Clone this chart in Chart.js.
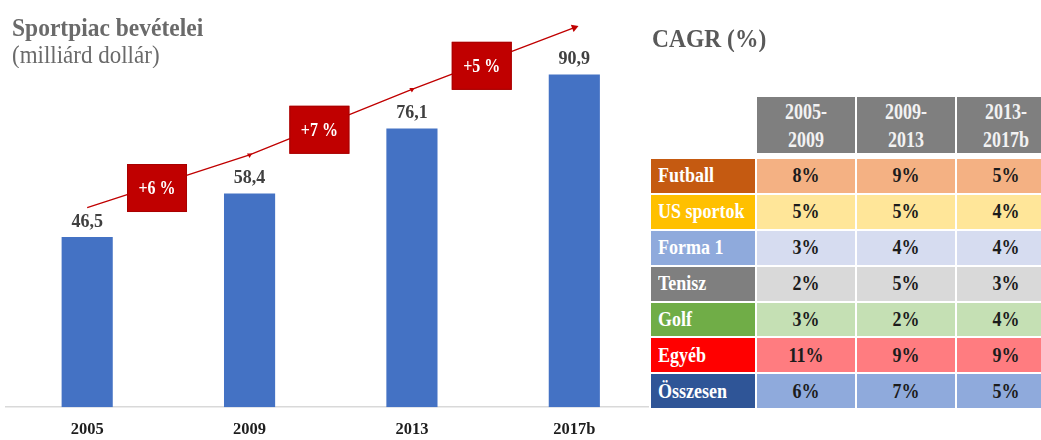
<!DOCTYPE html>
<html>
<head>
<meta charset="utf-8">
<script src="https://cdn.jsdelivr.net/npm/chart.js@4/dist/chart.umd.min.js"></script>
<style>
  html, body { margin:0; padding:0; background:#fff; }
  body { width:1041px; height:440px; position:relative; overflow:hidden; font-family:"Liberation Serif","Times New Roman",serif; }
  #chartBox { position:absolute; left:0; top:0; width:660px; height:453px; }
  .title1 { position:absolute; left:12px; top:14px; font-size:23.5px; font-weight:bold; color:#6a6a6a; white-space:nowrap; transform:scaleY(1.1); transform-origin:0 50%; }
  .title2 { position:absolute; left:12px; top:42px; font-size:23px; color:#6a6a6a; white-space:nowrap; transform:scaleY(1.08); transform-origin:0 50%; }
  .cagrTitle { position:absolute; left:652px; top:25px; font-size:23.5px; font-weight:bold; color:#595959; white-space:nowrap; transform:scaleY(1.08); transform-origin:0 50%; }
  #tbl { position:absolute; left:649px; top:95px; width:420px; background:#fff; padding:2px; }
  .hdr { display:grid; grid-template-columns:104px 98px 98px 98px; column-gap:2px; height:56px; }
  .hdr div { background:#7f7f7f; color:#f2f2f2; font-weight:bold; font-size:18px; text-align:center; display:flex; align-items:center; justify-content:center; }
  .hdr div span { display:inline-block; white-space:pre; line-height:22px; transform:scaleY(1.3); }
  .hdr div.blank { background:transparent; }
  .body { display:grid; grid-template-columns:104px 98px 98px 98px; column-gap:2px; row-gap:2px; margin-top:6px; grid-auto-rows:33.9px; }
  .body div { font-weight:bold; font-size:18px; display:flex; align-items:center; white-space:nowrap; }
  .body div span { display:inline-block; transform:scaleY(1.22); }
  .body div.lab { color:#fff; padding-left:7px; }
  .body div.val { justify-content:center; color:#1c1c1c; }
</style>
</head>
<body>
<div id="chartBox"><canvas id="c"></canvas></div>
<div class="title1">Sportpiac bevételei</div>
<div class="title2">(milliárd dollár)</div>
<div class="cagrTitle">CAGR (%)</div>
<div id="tbl"></div>
<script>
// ---- data ----
const years = ['2005', '2009', '2013', '2017b'];
const revenue = [46.5, 58.4, 76.1, 90.9];
const trendLine = [54.5, 68.9, 86.8, 103.7];
const periodGrowth = ['+6 %', '+7 %', '+5 %'];

const periods = ['2005-\n2009', '2009-\n2013', '2013-\n2017b'];
const sports = ['Futball', 'US sportok', 'Forma 1', 'Tenisz', 'Golf', 'Egyéb', 'Összesen'];
const cagr0509 = [8, 5, 3, 2, 3, 11, 6];
const cagr0913 = [9, 5, 4, 5, 2, 9, 7];
const cagr1317 = [5, 4, 4, 3, 4, 9, 5];

// ---- styles ----
const style = {
  bar: '#4472C4',
  red: '#C00000',
  labelColors: ['#C55A11', '#FFC000', '#8FAADC', '#7F7F7F', '#70AD47', '#FF0000', '#2F5597'],
  cellColors: ['#F4B183', '#FFE699', '#D6DCF0', '#D9D9D9', '#C5E0B4', '#FF7C80', '#8FAADC']
};

// ---- table ----
(function buildTable() {
  const tbl = document.getElementById('tbl');
  const mk = (cls, text, bg) => {
    const d = document.createElement('div');
    if (cls) d.className = cls;
    if (text !== null) { const s = document.createElement('span'); s.textContent = text; d.appendChild(s); }
    if (bg) d.style.background = bg;
    return d;
  };
  const hdr = document.createElement('div');
  hdr.className = 'hdr';
  hdr.appendChild(mk('blank', null));
  periods.forEach(p => hdr.appendChild(mk('', p)));
  tbl.appendChild(hdr);
  const body = document.createElement('div');
  body.className = 'body';
  const cols = [cagr0509, cagr0913, cagr1317];
  sports.forEach((s, i) => {
    body.appendChild(mk('lab', s, style.labelColors[i]));
    cols.forEach(col => body.appendChild(mk('val', col[i] + '%', style.cellColors[i])));
  });
  tbl.appendChild(body);
})();

// ---- chart plugins ----
const valueLabels = {
  id: 'valueLabels',
  afterDatasetsDraw(chart) {
    const ctx = chart.ctx;
    const meta = chart.getDatasetMeta(0);
    ctx.save();
    ctx.font = 'bold 18px "Liberation Serif", serif';
    ctx.fillStyle = '#404040';
    ctx.textAlign = 'center';
    ctx.textBaseline = 'middle';
    meta.data.forEach((bar, i) => {
      ctx.fillText(revenue[i].toFixed(1).replace('.', ','), bar.x, bar.y - 15);
    });
    ctx.restore();
  }
};

const growthBoxes = {
  id: 'growthBoxes',
  afterDatasetsDraw(chart) {
    const ctx = chart.ctx;
    const pts = chart.getDatasetMeta(1).data;
    ctx.save();
    for (let i = 0; i < periodGrowth.length; i++) {
      const p0 = pts[i], p1 = pts[i + 1];
      const t = 0.43;
      const cx = p0.x + t * (p1.x - p0.x);
      const cy = p0.y + t * (p1.y - p0.y) + 3;
      const w = 60, h = 48;
      ctx.fillStyle = style.red;
      ctx.fillRect(cx - w / 2, cy - h / 2, w, h);
      ctx.strokeStyle = '#a80000';
      ctx.lineWidth = 1;
      ctx.strokeRect(cx - w / 2 + 0.5, cy - h / 2 + 0.5, w - 1, h - 1);
      ctx.fillStyle = '#ffffff';
      ctx.font = 'bold 16px "Liberation Serif", serif';
      ctx.textAlign = 'center';
      ctx.textBaseline = 'middle';
      ctx.save();
      ctx.translate(cx, cy + 1);
      ctx.scale(1, 1.15);
      ctx.fillText(periodGrowth[i], 0, 0);
      ctx.restore();
    }
    ctx.restore();
  }
};

new Chart(document.getElementById('c'), {
  data: {
    labels: years,
    datasets: [
      {
        type: 'bar',
        data: revenue,
        backgroundColor: style.bar,
        categoryPercentage: 1,
        barPercentage: 0.315,
        order: 2
      },
      {
        type: 'line',
        data: trendLine,
        borderColor: style.red,
        borderWidth: 1.3,
        backgroundColor: style.red,
        pointStyle: 'triangle',
        pointRadius: [0, 3, 3, 4.5],
        pointRotation: [0, 180, 180, 69],
        pointBorderWidth: 0,
        tension: 0,
        order: 1
      }
    ]
  },
  options: {
    responsive: true,
    maintainAspectRatio: false,
    animation: false,
    layout: { padding: { left: 6, right: 3, top: 3, bottom: 0 } },
    plugins: { legend: { display: false }, tooltip: { enabled: false }, title: { display: false } },
    scales: {
      x: {
        grid: { display: false, drawTicks: false },
        border: { display: true, color: '#d9d9d9', width: 1.5 },
        ticks: { color: '#1e1e1e', font: { family: '"Liberation Serif", serif', size: 16.5, weight: 'bold' }, padding: 13 }
      },
      y: { display: false, min: 0, max: 110 }
    }
  },
  plugins: [valueLabels, growthBoxes]
});
</script>
</body>
</html>
